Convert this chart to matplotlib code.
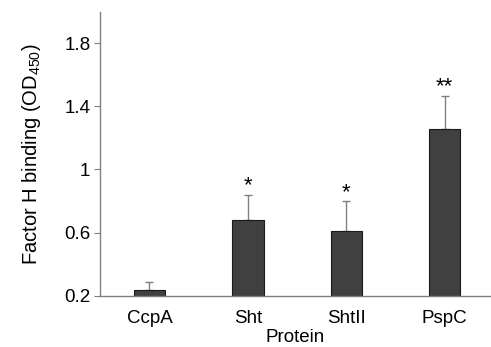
import matplotlib
matplotlib.use("Agg")
import matplotlib.pyplot as plt

plt.rcParams['font.family'] = ['Liberation Sans', 'DejaVu Sans']
plt.rcParams['mathtext.fontset'] = 'custom'
plt.rcParams['mathtext.rm'] = 'Liberation Sans'
plt.rcParams['mathtext.it'] = 'Liberation Sans'

# data
proteins = ['CcpA', 'Sht', 'ShtII', 'PspC']
values = [0.236, 0.679, 0.611, 1.259]
errors = [0.049, 0.162, 0.188, 0.208]
stars = ['', '*', '*', '**']
yticks = [0.2, 0.6, 1, 1.4, 1.8]

fig = plt.figure(figsize=(4.91, 3.47), dpi=100)
ax = fig.add_axes([0.204, 0.148, 0.796, 0.818])

x = range(len(proteins))
ax.bar(x, [v - 0.2 for v in values], bottom=0.2, width=0.32,
       color='#404040', edgecolor='#1a1a1a', linewidth=0.8, zorder=2)
ax.errorbar(x, values, yerr=[[0] * len(errors), errors], fmt='none',
            ecolor='#808080', elinewidth=1, capsize=3, capthick=1, zorder=1)

for xi, v, e, s in zip(x, values, errors, stars):
    if s:
        ax.text(xi, v + e - 0.01, s, ha='center', va='bottom', fontsize=16)

ax.set_xlim(-0.5, 3.47)
ax.set_ylim(0.2, 2.0)
ax.set_yticks(yticks)
ax.set_yticklabels([str(t) for t in yticks])
ax.set_xticks(list(x))
ax.set_xticklabels(proteins)

for side in ['top', 'right']:
    ax.spines[side].set_visible(False)
for side in ['left', 'bottom']:
    ax.spines[side].set_color('#808080')
    ax.spines[side].set_linewidth(1)

ax.tick_params(axis='y', direction='out', length=4, color='#808080', labelsize=13.5, pad=3)
ax.tick_params(axis='x', length=0, labelsize=13.5, pad=10)

ax.set_xlabel('Protein', fontsize=13.5, labelpad=2)
ax.set_ylabel('Factor H binding (OD$_{450}$)', fontsize=14.5, labelpad=15)

fig.savefig('out.png', dpi=100)
